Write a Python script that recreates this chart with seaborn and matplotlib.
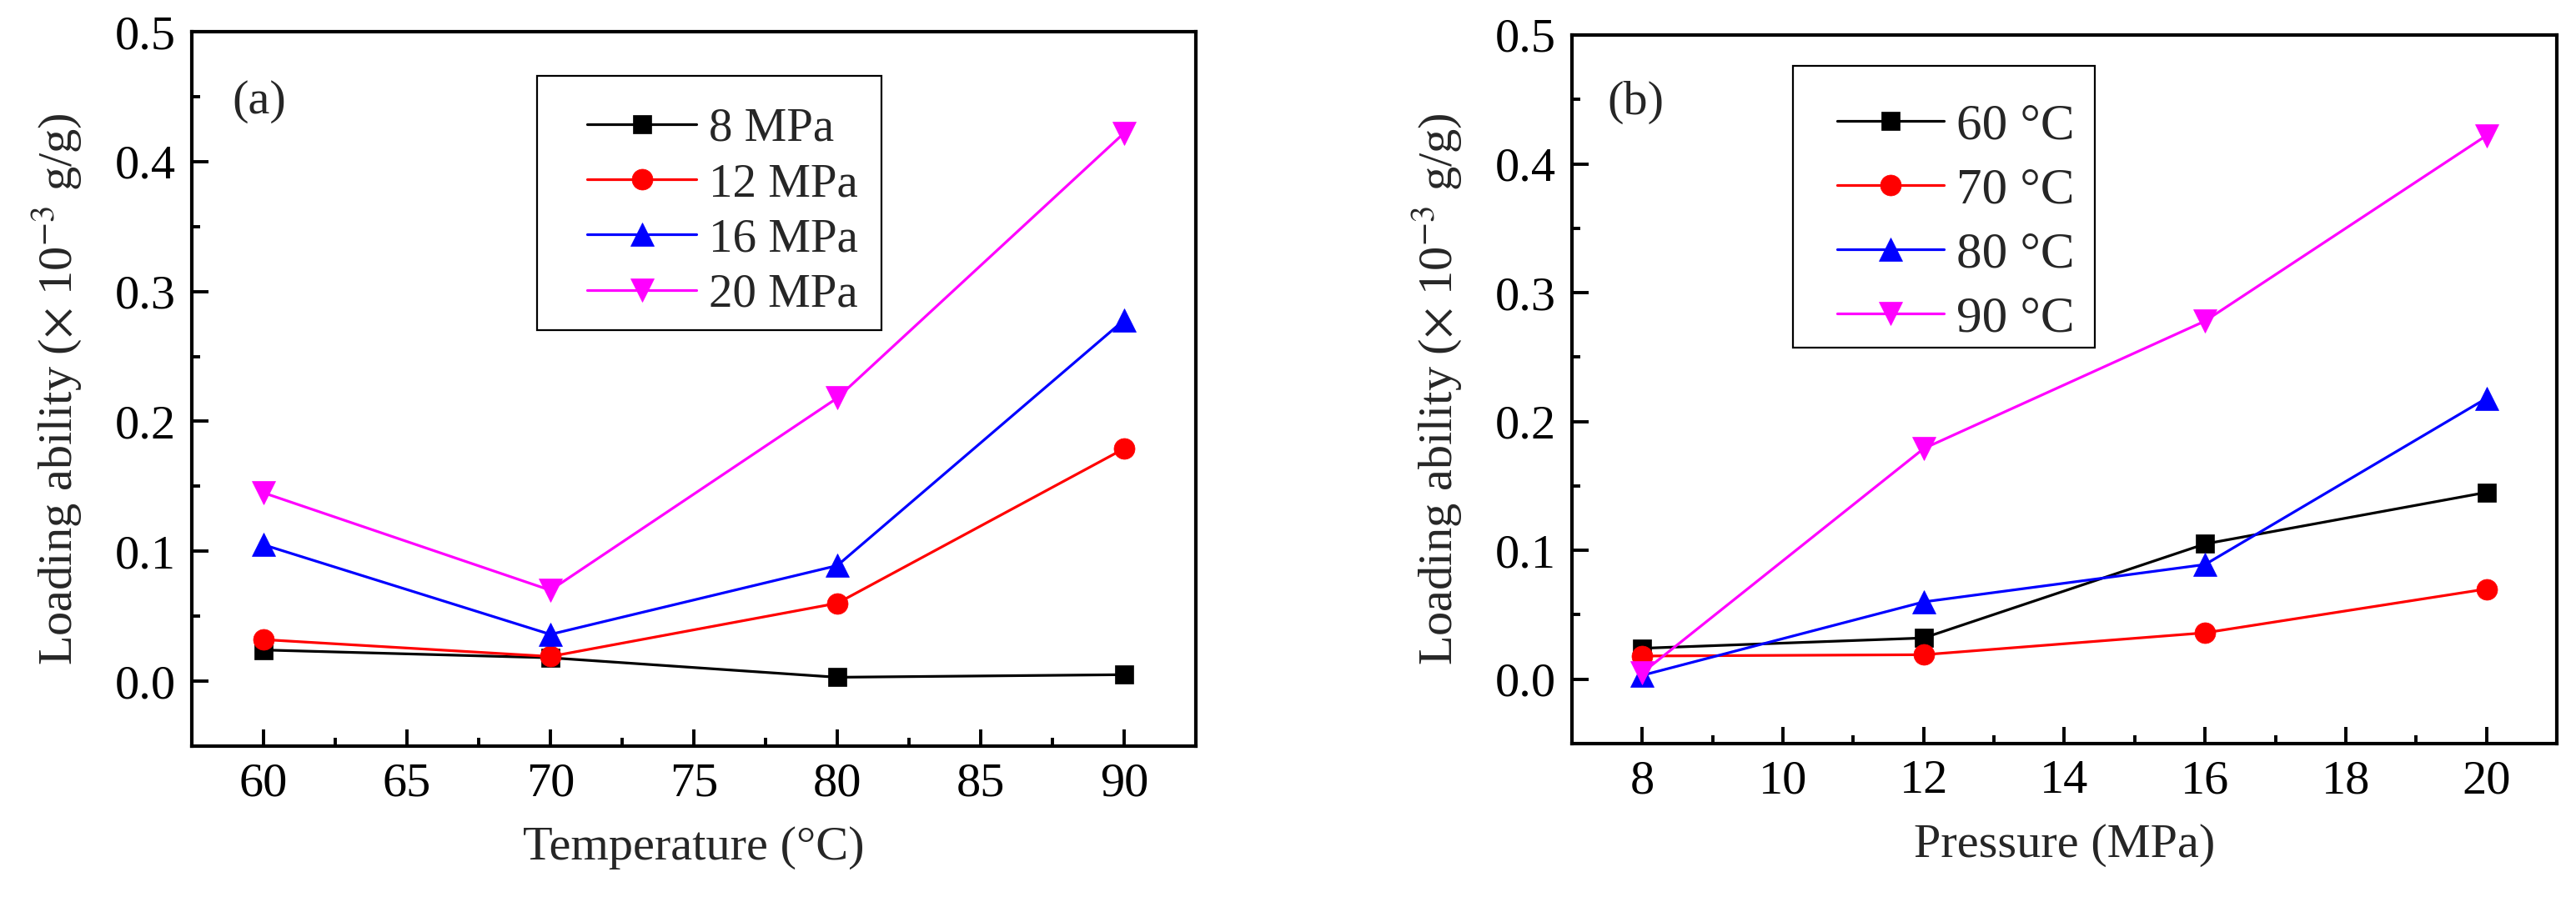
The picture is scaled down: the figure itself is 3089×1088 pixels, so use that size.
import matplotlib
matplotlib.use("Agg")
import matplotlib.pyplot as plt
from matplotlib.patches import Rectangle
from matplotlib.ticker import MultipleLocator, FormatStrFormatter
import seaborn as sns
import pandas as pd

# ---- data ----
temperatures = [60, 70, 80, 90]          # °C
pressures = [8, 12, 16, 20]              # MPa
# loading ability (x1e-3 g/g); one list per pressure, values at each temperature
load_8MPa = [0.024, 0.018, 0.003, 0.005]
load_12MPa = [0.032, 0.019, 0.060, 0.179]
load_16MPa = [0.105, 0.036, 0.089, 0.278]
load_20MPa = [0.145, 0.070, 0.218, 0.422]
pressure_labels = ["8 MPa", "12 MPa", "16 MPa", "20 MPa"]
temperature_labels = ["60 \u00b0C", "70 \u00b0C", "80 \u00b0C", "90 \u00b0C"]

series_by_pressure = [load_8MPa, load_12MPa, load_16MPa, load_20MPa]
# panel (b): same measurements viewed per temperature
series_by_temperature = [[s[i] for s in series_by_pressure] for i in range(len(temperatures))]

colors = ["#000000", "#ff0000", "#0000ff", "#ff00ff"]
markers = ["s", "o", "^", "v"]
msizes = [16, 18, 20, 20]

sns.set_theme(style="white")
plt.rcParams["font.family"] = ["Liberation Serif", "DejaVu Serif"]
plt.rcParams["mathtext.fontset"] = "stix"

FS = 42
fig = plt.figure(figsize=(30.89, 10.88), dpi=100)
ax_a = fig.add_axes([0.07446, 0.17739, 0.38977, 0.78768])
ax_b = fig.add_axes([0.61023, 0.18015, 0.38232, 0.78125])


def draw(ax, xs, series, labels):
    for vals, lab, c, m, ms in zip(series, labels, colors, markers, msizes):
        df = pd.DataFrame({"x": xs, "y": vals})
        sns.lineplot(data=df, x="x", y="y", ax=ax, color=c, marker=m,
                     markersize=ms, markeredgecolor=c, markeredgewidth=0.5,
                     linewidth=2.3, label=lab, zorder=3)


draw(ax_a, temperatures, series_by_pressure, pressure_labels)
draw(ax_b, pressures, series_by_temperature, temperature_labels)

ylabel = r"Loading ability ($\times$ 10$^{-3}$ g/g)"
for ax in (ax_a, ax_b):
    ax.set_ylim(-0.05, 0.5)
    ax.yaxis.set_major_locator(MultipleLocator(0.1))
    ax.yaxis.set_minor_locator(MultipleLocator(0.05))
    ax.yaxis.set_major_formatter(FormatStrFormatter("%.1f"))
    for sp in ax.spines.values():
        sp.set_linewidth(3.0)
        sp.set_color("black")
    ax.tick_params(which="both", direction="in", top=False, right=False,
                   left=True, bottom=True, colors="black")
    ax.tick_params(which="major", length=14.5, width=2.8, labelsize=FS, pad=14)
    ax.tick_params(which="minor", length=7.5, width=2.8)
    ax.set_ylabel(ylabel, fontsize=FS, labelpad=26)
    ax.grid(False)

ax_a.set_xlim(57.5, 92.5)
ax_a.xaxis.set_major_locator(MultipleLocator(5))
ax_a.xaxis.set_minor_locator(MultipleLocator(2.5))
ax_a.set_xlabel("Temperature (\u00b0C)", fontsize=FS, labelpad=18)

ax_b.set_xlim(7, 21)
ax_b.xaxis.set_major_locator(MultipleLocator(2))
ax_b.xaxis.set_minor_locator(MultipleLocator(1))
ax_b.set_xlabel("Pressure (MPa)", fontsize=FS, labelpad=18)

ax_a.text(0.040, 0.902, "(a)", transform=ax_a.transAxes, fontsize=FS, va="center", ha="left")
ax_b.text(0.036, 0.905, "(b)", transform=ax_b.transAxes, fontsize=FS, va="center", ha="left")

# legends
leg_a = ax_a.legend(loc="upper left", bbox_to_anchor=(0.394, 0.894), frameon=False,
                    fontsize=41, handlelength=2.3, handletextpad=0.25,
                    labelspacing=0.25, borderpad=0, borderaxespad=0)
leg_b = ax_b.legend(loc="upper left", bbox_to_anchor=(0.269, 0.904), frameon=False,
                    fontsize=44, handlelength=2.1, handletextpad=0.25,
                    labelspacing=0.35, borderpad=0, borderaxespad=0)
for leg in (leg_a, leg_b):
    leg.set_zorder(6)

ax_a.add_patch(Rectangle((0.344, 0.582), 0.343, 0.356, transform=ax_a.transAxes,
                         facecolor="white", edgecolor="black", linewidth=1.6, zorder=5))
ax_b.add_patch(Rectangle((0.2244, 0.5588), 0.3065, 0.3977, transform=ax_b.transAxes,
                         facecolor="white", edgecolor="black", linewidth=1.6, zorder=5))

fig.savefig("out.png", dpi=100, facecolor="white")
